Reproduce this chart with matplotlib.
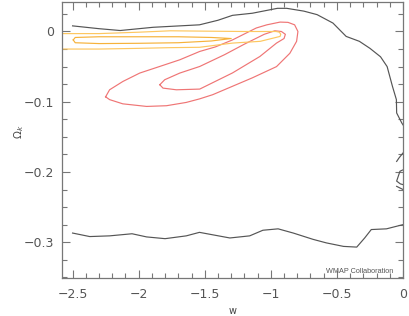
import matplotlib
matplotlib.use("Agg")
import matplotlib.pyplot as plt
from matplotlib.ticker import MultipleLocator

plt.rcParams['font.family'] = ['DejaVu Sans']

# ---- data (w, Omega_k) ----
black_top_w = [-2.5, -2.3, -2.14, -1.89, -1.54, -1.4, -1.29, -1.14, -0.95, -0.88, -0.75, -0.65,
               -0.53, -0.43, -0.33, -0.25, -0.17, -0.12, -0.08, -0.05, -0.048, -0.01, 0.0]
black_top_k = [0.008, 0.004, 0.0014, 0.006, 0.0095, 0.016, 0.023, 0.026, 0.033, 0.033, 0.029, 0.024,
               0.012, -0.007, -0.014, -0.024, -0.036, -0.05, -0.078, -0.097, -0.116, -0.130, -0.133]

black_bot_w = [-2.5, -2.37, -2.22, -2.05, -1.94, -1.80, -1.64, -1.54, -1.31, -1.16, -1.06, -0.945,
               -0.83, -0.68, -0.58, -0.45, -0.35, -0.29, -0.24, -0.125, 0.0]
black_bot_k = [-0.287, -0.292, -0.291, -0.288, -0.2925, -0.295, -0.291, -0.286, -0.294, -0.291,
               -0.283, -0.281, -0.287, -0.296, -0.301, -0.306, -0.307, -0.294, -0.282, -0.281, -0.275]

frag_a_w = [-0.048, -0.03, 0.0]
frag_a_k = [-0.185, -0.180, -0.173]
frag_b_w = [0.0, -0.023, -0.048, -0.02, 0.0]
frag_b_k = [-0.197, -0.199, -0.213, -0.217, -0.218]
frag_c_w = [-0.048, 0.0]
frag_c_k = [-0.2205, -0.225]

red_out_w = [-2.25, -2.22, -2.12, -1.94, -1.79, -1.64, -1.54, -1.44, -1.29, -1.14, -0.957, -0.856,
             -0.805, -0.795, -0.82, -0.87, -0.93, -1.03, -1.11, -1.29, -1.42, -1.538, -1.689,
             -1.841, -1.992, -2.119, -2.22, -2.25]
red_out_k = [-0.093, -0.097, -0.103, -0.1067, -0.1057, -0.101, -0.096, -0.090, -0.078, -0.066,
             -0.050, -0.031, -0.014, 0.0, 0.0095, 0.013, 0.0134, 0.0095, 0.005, -0.012, -0.022,
             -0.0284, -0.0403, -0.0498, -0.0592, -0.0711, -0.083, -0.093]

red_in_w = [-1.84, -1.816, -1.715, -1.538, -1.29, -1.083, -0.957, -0.9, -0.89, -0.92, -0.97,
            -1.05, -1.2, -1.35, -1.538, -1.689, -1.803, -1.84]
red_in_k = [-0.0758, -0.0806, -0.083, -0.082, -0.059, -0.0356, -0.0165, -0.010, -0.004, 0.0,
            0.001, -0.004, -0.018, -0.033, -0.0498, -0.0592, -0.0687, -0.0758]

orange_out_w = [-2.62, -2.3, -2.0, -1.76, -1.5, -1.2, -0.96, -0.935, -0.925, -0.93, -1.08, -1.29,
                -1.54, -1.76, -2.0, -2.3, -2.62]
orange_out_k = [-0.003, -0.003, -0.001, 0.001, 0.0005, 0.0, 0.0, -0.001, -0.004, -0.007, -0.014,
                -0.0165, -0.0225, -0.023, -0.024, -0.025, -0.025]

orange_in_w = [-2.495, -2.48, -2.3, -2.0, -1.7, -1.45, -1.3, -1.45, -1.7, -2.0, -2.3, -2.48, -2.495]
orange_in_k = [-0.012, -0.0085, -0.0075, -0.0075, -0.0075, -0.0085, -0.0100, -0.0135, -0.016,
               -0.0168, -0.0172, -0.016, -0.012]

x_ticks = [-2.5, -2.0, -1.5, -1.0, -0.5, 0.0]
x_tick_labels = ['−2.5', '−2', '−1.5', '−1', '−0.5', '0']
y_ticks = [0.0, -0.1, -0.2, -0.3]
y_tick_labels = ['0', '−0.1', '−0.2', '−0.3']

# ---- figure ----
fig = plt.figure(figsize=(4.09, 3.16), dpi=100)
ax = fig.add_axes([62/409, 1-278/316, (403-62)/409, (278-2)/316])

lw = 0.85
ax.plot(black_top_w, black_top_k, color='#555555', lw=lw)
ax.plot(black_bot_w, black_bot_k, color='#555555', lw=lw)
for fw, fk in [(frag_a_w, frag_a_k), (frag_b_w, frag_b_k), (frag_c_w, frag_c_k)]:
    ax.plot(fw, fk, color='#555555', lw=lw)
ax.plot(red_out_w, red_out_k, color='#ef7575', lw=lw)
ax.plot(red_in_w, red_in_k, color='#ef7575', lw=lw)
ax.plot(orange_out_w, orange_out_k, color='#fdc760', lw=lw)
ax.plot(orange_in_w, orange_in_k, color='#f6b23a', lw=lw)

ax.set_xlim(-2.58, 0.0)
ax.set_ylim(-0.351, 0.042)

ax.set_xticks(x_ticks)
ax.set_xticklabels(x_tick_labels)
ax.set_yticks(y_ticks)
ax.set_yticklabels(y_tick_labels)
ax.xaxis.set_minor_locator(MultipleLocator(0.1))
ax.yaxis.set_minor_locator(MultipleLocator(0.025))
ax.tick_params(which='both', direction='in', top=True, right=True, color='#777777',
               labelcolor='#555555', labelsize=9, width=0.8)
ax.tick_params(which='major', length=6)
ax.tick_params(which='minor', length=3.5)
ax.tick_params(axis='x', which='major', pad=7)
ax.tick_params(axis='y', which='major', pad=6)
for s in ax.spines.values():
    s.set_color('#777777')
    s.set_linewidth(0.9)

ax.set_xlabel('w', fontsize=7, color='#444444')
ax.set_ylabel(r'$\Omega_k$', fontsize=7.5, color='#444444')
ax.xaxis.set_label_coords(0.5, -0.1)
ax.yaxis.set_label_coords(-0.105, 0.53)
ax.text(0.971, 0.022, 'WMAP Collaboration', transform=ax.transAxes, ha='right', va='center',
        fontsize=5.2, color='#555555', family='Liberation Sans')

fig.savefig('out.png', dpi=100)
